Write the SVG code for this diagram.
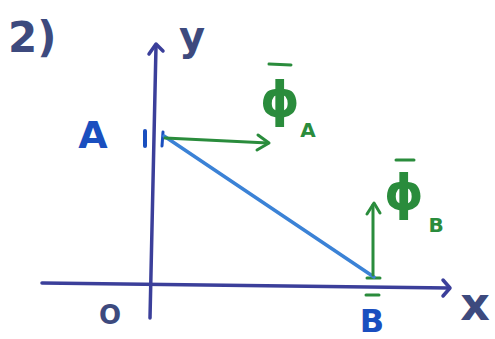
<svg xmlns="http://www.w3.org/2000/svg" width="495" height="339" viewBox="0 0 495 339">
<style>
.ink{fill:none;stroke-linecap:round;stroke-linejoin:round}
.axis{stroke:#3b3f9a;stroke-width:3.5}
.bar{stroke:#3b82d6;stroke-width:3.5}
.vec{stroke:#2a8c3c;stroke-width:3}
.dark{fill:#3d4a7e;font-family:"DejaVu Sans","Liberation Sans",sans-serif;font-weight:bold}
.blue{fill:#1a4fbf;font-family:"DejaVu Sans","Liberation Sans",sans-serif;font-weight:bold}
.green{fill:#2a8c3c;font-family:"DejaVu Sans","Liberation Sans",sans-serif;font-weight:bold}
.gbar{stroke:#2a8c3c;stroke-width:3;stroke-linecap:round}
</style>
<rect width="495" height="339" fill="#ffffff"/>
<text class="dark" x="8" y="52" font-size="42">2)</text>
<g id="axes">
  <path class="ink axis" d="M150,318 L156,46"/>
  <path class="ink axis" d="M149,54 L156,44 L163,51"/>
  <path class="ink axis" d="M42,283 L449,288"/>
  <path class="ink axis" d="M443,280 L450,288 L443,296"/>
  <text class="dark" x="192" y="50" font-size="40" text-anchor="middle">y</text>
  <text class="dark" x="475" y="320" font-size="46" text-anchor="middle">x</text>
</g>
<g id="origin">
  <text class="dark" x="110" y="324" font-size="26" text-anchor="middle">O</text>
</g>
<g id="node-A">
  <text class="blue" x="93" y="148" font-size="38" text-anchor="middle">A</text>
  <path class="ink" stroke="#1a4fbf" stroke-width="4" d="M145,131 L145,146"/>
  <path class="ink" stroke="#1a4fbf" stroke-width="3" d="M163,132 L162,146"/>
</g>
<g id="node-B">
  <path class="gbar" stroke="#1a4fbf" d="M367,278 L380,278"/>
  <path class="gbar" stroke="#1a4fbf" d="M366,295 L379,295"/>
  <text class="blue" x="372" y="332" font-size="32" text-anchor="middle">B</text>
</g>
<g id="label-phiA">
  <path class="gbar" d="M269,64 L291,65"/>
  <text class="green" x="280" y="117" font-size="50" text-anchor="middle">ϕ</text>
  <text class="green" x="308" y="137" font-size="20" text-anchor="middle">A</text>
</g>
<g id="label-phiB">
  <path class="gbar" d="M396,160 L414,160"/>
  <text class="green" x="404" y="210" font-size="50" text-anchor="middle">ϕ</text>
  <text class="green" x="436" y="232" font-size="20" text-anchor="middle">B</text>
</g>
<g id="connectors">
  <path class="ink bar" d="M164,136 L374,277"/>
  <path class="ink vec" d="M165,138 L268,143"/>
  <path class="ink vec" d="M258,135 L269,143 L257,150"/>
  <path class="ink vec" d="M373,275 L373,205"/>
  <path class="ink vec" d="M367,214 L374,203 L380,213"/>
</g>
</svg>
